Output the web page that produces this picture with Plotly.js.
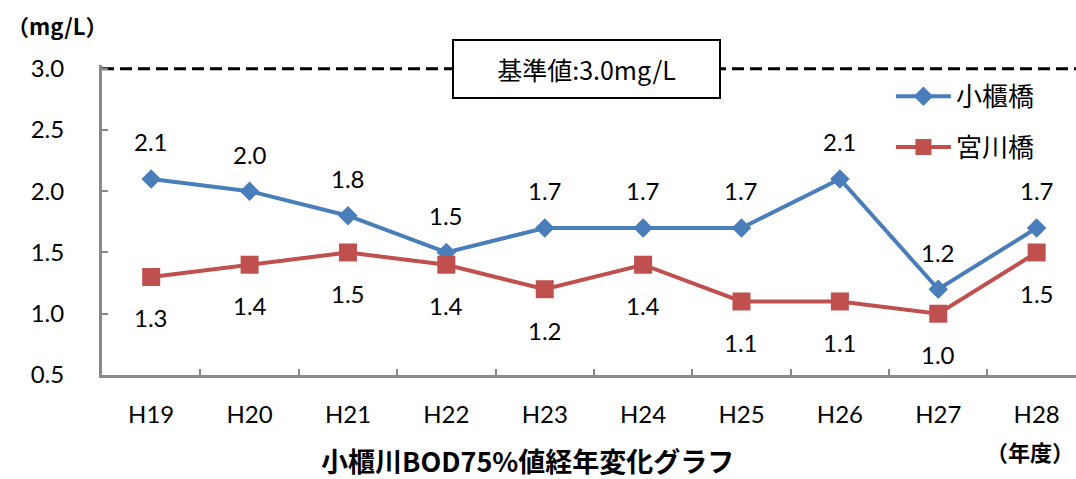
<!DOCTYPE html>
<html>
<head>
<meta charset="utf-8">
<script src="https://cdn.plot.ly/plotly-3.0.1.min.js"></script>
<style>
html,body{margin:0;padding:0;background:#fff;}
#chart{width:1076px;height:479px;}
</style>
</head>
<body>
<div id="chart"></div>
<script>
var years = ['H19','H20','H21','H22','H23','H24','H25','H26','H27','H28'];
var obitsuBashi = [2.1, 2.0, 1.8, 1.5, 1.7, 1.7, 1.7, 2.1, 1.2, 1.7];
var miyagawaBashi = [1.3, 1.4, 1.5, 1.4, 1.2, 1.4, 1.1, 1.1, 1.0, 1.5];
var seriesNames = ['小櫃橋', '宮川橋'];
var standardValue = 3.0;
var standardLabel = '基準値:3.0mg/L';
var yTicks = [0.5, 1.0, 1.5, 2.0, 2.5, 3.0];
var chartTitle = '小櫃川BOD75%値経年変化グラフ';
var yUnit = '（mg/L）';
var xUnit = '（年度）';

var NUMFONT = 'Lato, "Noto Sans CJK JP", sans-serif';
var JPFONT = '"Noto Sans CJK JP", sans-serif';
var BLUE = '#4A7EBB';
var RED = '#C0504D';
var AXIS = '#898989';

var traces = [
  {
    x: years, y: obitsuBashi, name: seriesNames[0], type: 'scatter', mode: 'lines+markers',
    line: {color: BLUE, width: 4},
    marker: {symbol: 'diamond', size: 15, color: BLUE},
    legendgroup: 'a'
  },
  {
    x: years, y: miyagawaBashi, name: seriesNames[1], type: 'scatter', mode: 'lines+markers',
    line: {color: RED, width: 4},
    marker: {symbol: 'square', size: 18, color: RED},
    legendgroup: 'b'
  }
];

var annotations = [];
years.forEach(function(c, i) {
  annotations.push({x: c, y: obitsuBashi[i], xref: 'x', yref: 'y', text: obitsuBashi[i].toFixed(1),
    showarrow: false, yshift: 37, font: {family: NUMFONT, size: 24, color: '#000'}});
  annotations.push({x: c, y: miyagawaBashi[i], xref: 'x', yref: 'y', text: miyagawaBashi[i].toFixed(1),
    showarrow: false, yshift: -41, font: {family: NUMFONT, size: 24, color: '#000'}});
});
annotations.push({x: 0.497, y: standardValue, xref: 'paper', yref: 'y', text: standardLabel,
  showarrow: false, bgcolor: '#fff', bordercolor: '#000', borderwidth: 2, borderpad: 10,
  width: 245, font: {family: JPFONT, size: 25, color: '#000'}});
annotations.push({x: -0.1, y: 1.13, xref: 'paper', yref: 'paper', text: '<b>' + yUnit + '</b>',
  showarrow: false, xanchor: 'left', yanchor: 'middle', font: {family: JPFONT, size: 22, color: '#000'}});
annotations.push({x: 1.0, y: -0.245, xref: 'paper', yref: 'paper', text: '<b>' + xUnit + '</b>',
  showarrow: false, xanchor: 'right', yanchor: 'middle', font: {family: JPFONT, size: 22, color: '#000'}});
annotations.push({x: 0.437, y: -0.275, xref: 'paper', yref: 'paper', text: '<b>' + chartTitle + '</b>',
  showarrow: false, xanchor: 'center', yanchor: 'middle', font: {family: JPFONT, size: 27, color: '#000'}});

var layout = {
  width: 1076, height: 479,
  margin: {l: 102, r: 0, t: 65, b: 104},
  paper_bgcolor: '#fff', plot_bgcolor: '#fff',
  showlegend: true,
  legend: {x: 0.81, y: 0.975, xanchor: 'left', yanchor: 'top', bgcolor: 'rgba(255,255,255,0)',
    font: {family: JPFONT, size: 26, color: '#000'}, itemwidth: 55, tracegroupgap: 14, traceorder: 'grouped'},
  xaxis: {
    type: 'category', range: [-0.5, 9.4], tickson: 'boundaries', ticks: 'inside', ticklen: 6,
    tickwidth: 2, tickcolor: AXIS, showline: true, linecolor: AXIS, linewidth: 3, showgrid: false,
    zeroline: false, ticklabelstandoff: 16,
    tickfont: {family: NUMFONT, size: 24, color: '#000'}
  },
  yaxis: {
    range: [0.5, 3.03], tickvals: yTicks, tickformat: '.1f', ticks: 'inside', ticklen: 6, tickwidth: 2,
    tickcolor: AXIS, showline: true, linecolor: AXIS, linewidth: 3, showgrid: false, zeroline: false,
    ticklabelstandoff: 30,
    tickfont: {family: NUMFONT, size: 24, color: '#000'}
  },
  shapes: [{
    type: 'line', xref: 'paper', yref: 'y', x0: 0, x1: 1, y0: standardValue, y1: standardValue,
    line: {color: '#000', width: 3, dash: '12px,6px'}, layer: 'below'
  }],
  annotations: annotations
};

Plotly.newPlot('chart', traces, layout, {staticPlot: true, displayModeBar: false});
</script>
</body>
</html>
